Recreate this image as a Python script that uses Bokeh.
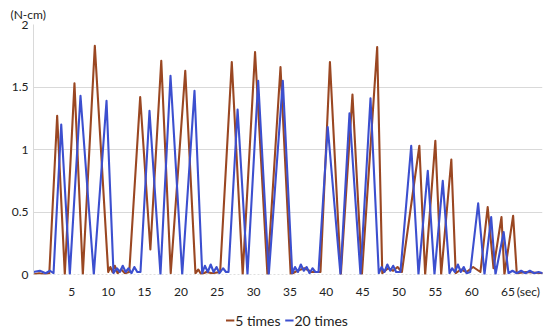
from bokeh.plotting import figure
from bokeh.layouts import column
from bokeh.models import FixedTicker, Span, Range1d
from bokeh.core.properties import value
from bokeh.embed import file_html
from bokeh.resources import INLINE

# Time (sec) and torque (N-cm) ("5 times" trace)
t5 = [-0.3, 0.5, 1.2, 1.9, 2.98, 4.03, 5.36, 6.51, 8.16, 10.0, 10.3, 10.6, 10.9,
      11.3, 11.8, 12.3, 12.9, 14.4, 15.8, 17.3, 18.6, 20.6, 22.0, 22.4, 22.8, 23.5,
      24.3, 25.4, 27.0, 28.5, 30.2, 31.9, 33.7, 35.1, 36.0, 37.0, 38.0, 39.2, 40.5,
      42.0, 43.6, 44.9, 47.0, 47.7, 48.5, 49.2, 49.8, 50.4, 52.8, 53.6, 55.0, 55.8,
      57.2, 57.8, 58.5, 59.3, 60.2, 61.2, 62.2, 63.0, 64.1, 64.5, 65.7, 66.2, 67.5,
      69.8]
v5 = [0, 0.01, 0.0, 0.01, 1.27, 0, 1.53, 0, 1.83, 0.02, 0.06, 0.02, 0.07,
      0.01, 0.04, 0.01, 0.02, 1.42, 0.2, 1.71, 0.01, 1.63, 0.01, 0.04, 0.0, 0.02,
      0.01, 0.02, 1.70, 0.0, 1.78, 0.0, 1.66, 0.0, 0.03, 0.05, 0.02, 0.02, 1.70,
      0, 1.44, 0, 1.82, 0.01, 0.05, 0.03, 0.06, 0.02, 1.03, 0, 1.07, 0,
      0.92, 0.01, 0.04, 0.02, 0.06, 0.02, 0.54, 0.05, 0.46, 0.0, 0.47, 0.01, 0.02,
      0.01]

# "20 times" trace
t20 = [-0.3, 0.6, 1.4, 2.0, 2.48, 3.54, 4.72, 6.19, 8.02, 9.77, 10.73, 11.2, 11.6,
       12.0, 12.4, 12.8, 13.2, 13.6, 14.0, 14.44, 15.68, 17.19, 18.57, 20.18, 21.87,
       22.93, 23.3, 23.7, 24.1, 24.5, 24.9, 25.3, 25.8, 26.2, 26.55, 27.8, 29.16,
       30.63, 32.09, 34.02, 35.31, 35.7, 36.1, 36.5, 36.9, 37.3, 37.7, 38.1, 38.5,
       38.93, 40.2, 41.95, 43.19, 44.70, 46.08, 47.22, 47.6, 48.0, 48.4, 48.8, 49.2,
       49.6, 50.2, 51.68, 52.68, 53.96, 54.88, 56.02, 56.95, 57.3, 57.7, 58.1, 58.5,
       58.9, 59.3, 59.8, 60.89, 61.76, 62.68, 63.27, 64.4, 65.06, 65.6, 66.2, 66.8,
       67.4, 68.0, 68.6, 69.2, 69.8]
v20 = [0.02, 0.03, 0.01, 0.03, 0.01, 1.20, 0, 1.43, 0, 1.39, 0.01, 0.05, 0.02,
       0.07, 0.02, 0.05, 0.01, 0.06, 0.02, 0.02, 1.31, 0, 1.59, 0, 1.47,
       0.01, 0.07, 0.02, 0.08, 0.02, 0.06, 0.01, 0.05, 0.02, 0.02, 1.32, 0,
       1.55, 0, 1.55, 0.01, 0.06, 0.02, 0.08, 0.03, 0.06, 0.01, 0.05, 0.02,
       0.02, 1.18, 0, 1.29, 0, 1.41, 0.01, 0.06, 0.02, 0.08, 0.03, 0.07,
       0.02, 0.02, 1.03, 0, 0.83, 0, 0.75, 0.01, 0.05, 0.02, 0.08, 0.02,
       0.06, 0.01, 0.02, 0.57, 0, 0.46, 0, 0.34, 0.01, 0.03, 0.01, 0.03,
       0.01, 0.03, 0.01, 0.02, 0.01]

x_ticks = [5, 10, 15, 20, 25, 30, 35, 40, 45, 50, 55, 60, 65]
y_ticks = [0, 0.5, 1, 1.5, 2]
x_unit = "(sec)"
y_unit = "(N-cm)"
labels = ["5 times", "20 times"]

FONT = "Lato"
BROWN = "#9a4722"
BLUE = "#3c4fcf"
TXT = "#222222"
W = 550

p = figure(width=W, height=312, output_backend="svg", toolbar_location=None,
           x_range=Range1d(-0.275, 69.74), y_range=Range1d(0, 2),
           min_border_left=33, min_border_right=8, min_border_top=24,
           min_border_bottom=38, title=y_unit)
p.outline_line_color = None
p.title.text_font = FONT
p.title.text_font_size = "12px"
p.title.text_font_style = "normal"
p.title.text_color = TXT
p.title.align = "left"
p.title.offset = -23
p.title.standoff = 6

p.line(t5, v5, line_color=BROWN, line_width=2.1, line_join="round")
p.line(t20, v20, line_color=BLUE, line_width=2.1, line_join="round")

p.xgrid.visible = False
p.ygrid.ticker = FixedTicker(ticks=[0.5, 1, 1.5])
p.ygrid.grid_line_color = "#d9d9d9"
p.add_layout(Span(location=0, dimension="width", line_color="#bfbfbf",
                  line_dash="2 2", line_width=1))

for ax in (p.xaxis, p.yaxis):
    ax.major_tick_line_color = None
    ax.minor_tick_line_color = None
    ax.major_tick_out = 0
    ax.major_tick_in = 0
    ax.minor_tick_out = 0
    ax.major_label_text_font = FONT
    ax.major_label_text_font_size = "12px"
    ax.major_label_text_color = TXT

p.xaxis.ticker = FixedTicker(ticks=x_ticks + [67.8])
p.xaxis.major_label_overrides = {67.8: x_unit}
p.xaxis.axis_line_color = None
p.xaxis.major_label_standoff = 9

p.yaxis.ticker = FixedTicker(ticks=y_ticks)
p.yaxis.axis_line_color = "#d9d9d9"
p.yaxis.major_label_standoff = 5

# Legend row (its own small figure, pixel coordinates)
LH = 19
lg = figure(width=W, height=LH, output_backend="svg", toolbar_location=None,
            x_range=Range1d(0, W), y_range=Range1d(0, LH),
            x_axis_type=None, y_axis_type=None, min_border=0)
lg.outline_line_color = None
leg_x = [208, 272]
leg_colors = [BROWN, BLUE]
lg.segment(x0=leg_x, y0=[11, 11], x1=[x + 9 for x in leg_x], y1=[11, 11],
           line_color=leg_colors, line_width=1.8)
lg.text(x=[x + 10 for x in leg_x], y=[11, 11], text=labels,
        text_font=value(FONT), text_font_size=value("14px"),
        text_color=TXT, text_baseline="middle", text_align="left")

open("out.html", "w").write(file_html(column(p, lg), INLINE))
